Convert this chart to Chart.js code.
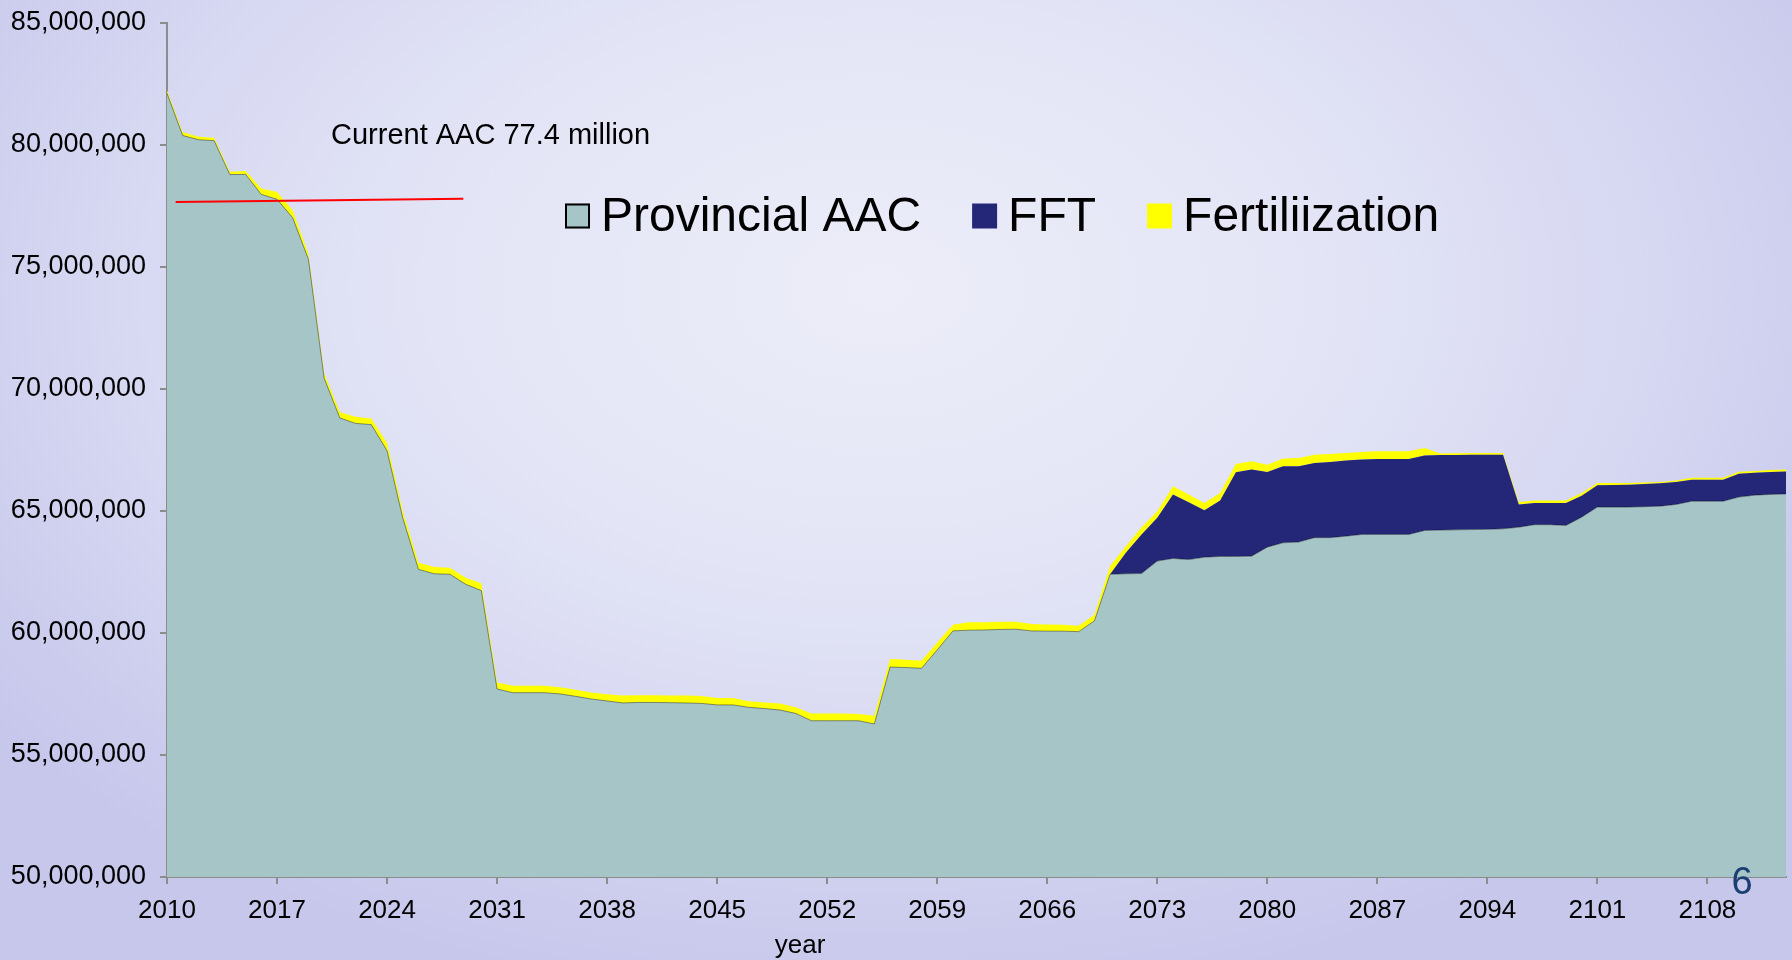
<!DOCTYPE html>
<html>
<head>
<meta charset="utf-8">
<script src="https://cdn.jsdelivr.net/npm/chart.js@4.4.1/dist/chart.umd.min.js"></script>
<style>
  html, body { margin: 0; padding: 0; }
  body {
    width: 1792px; height: 960px; overflow: hidden;
    background: radial-gradient(ellipse 62% 75% at 49% 30%, #ECEDF8 0%, #E3E5F6 40%, #D6D7F1 70%, #C6C7EB 100%);
  }
  #wrap { position: absolute; left: 0; top: 0; width: 1792px; height: 960px; }
</style>
</head>
<body>
<div id="wrap"><canvas id="c" width="1792" height="960"></canvas></div>
<script>
// ---- DATA (values in millions of m3) ----
const UNIT = 1e6;
const years = [];
for (let y = 2010; y <= 2113; y++) years.push(String(y));

const provincialAAC = [
  82.10, 80.37, 80.20, 80.16, 78.77, 78.78, 77.96, 77.76, 77.00, 75.30,
  70.43, 68.80, 68.58, 68.53, 67.46, 64.71, 62.60, 62.42, 62.40, 61.99,
  61.73, 57.70, 57.55, 57.55, 57.55, 57.50, 57.40, 57.29, 57.21, 57.13,
  57.15, 57.15, 57.14, 57.13, 57.11, 57.05, 57.05, 56.95, 56.90, 56.84,
  56.70, 56.40, 56.40, 56.40, 56.40, 56.27, 58.60, 58.58, 58.55, 59.30,
  60.08, 60.11, 60.12, 60.14, 60.15, 60.08, 60.07, 60.07, 60.05, 60.49,
  62.40, 62.42, 62.43, 62.94, 63.05, 63.00, 63.10, 63.13, 63.13, 63.14,
  63.51, 63.69, 63.72, 63.90, 63.90, 63.96, 64.03, 64.03, 64.03, 64.03,
  64.19, 64.21, 64.22, 64.23, 64.24, 64.26, 64.33, 64.43, 64.43, 64.40,
  64.74, 65.15, 65.15, 65.15, 65.17, 65.19, 65.26, 65.39, 65.39, 65.39,
  65.56, 65.64, 65.67, 65.69
];

const fft = [
  0, 0, 0, 0, 0, 0, 0, 0, 0, 0,
  0, 0, 0, 0, 0, 0, 0, 0, 0, 0,
  0, 0, 0, 0, 0, 0, 0, 0, 0, 0,
  0, 0, 0, 0, 0, 0, 0, 0, 0, 0,
  0, 0, 0, 0, 0, 0, 0, 0, 0, 0,
  0, 0, 0, 0, 0, 0, 0, 0, 0, 0,
  0, 0.86, 1.60, 1.77, 2.62, 2.35, 1.92, 2.29, 3.45, 3.55,
  3.08, 3.13, 3.10, 3.06, 3.10, 3.10, 3.07, 3.09, 3.09, 3.09,
  3.07, 3.07, 3.07, 3.07, 3.06, 3.04, 0.93, 0.89, 0.89, 0.92,
  0.88, 0.90, 0.91, 0.92, 0.93, 0.94, 0.92, 0.88, 0.88, 0.88,
  0.96, 0.92, 0.92, 0.92
];

const fertilization = [
  0.13, 0.13, 0.12, 0.12, 0.12, 0.14, 0.24, 0.30, 0.30, 0.23,
  0.20, 0.24, 0.27, 0.25, 0.32, 0.27, 0.27, 0.28, 0.27, 0.27,
  0.30, 0.27, 0.28, 0.28, 0.28, 0.27, 0.27, 0.27, 0.28, 0.30,
  0.29, 0.29, 0.29, 0.30, 0.30, 0.28, 0.28, 0.25, 0.25, 0.27,
  0.25, 0.30, 0.30, 0.30, 0.28, 0.33, 0.33, 0.32, 0.31, 0.30,
  0.25, 0.32, 0.31, 0.31, 0.31, 0.28, 0.27, 0.26, 0.24, 0.25,
  0.34, 0.27, 0.30, 0.27, 0.33, 0.32, 0.30, 0.31, 0.34, 0.34,
  0.30, 0.32, 0.34, 0.34, 0.33, 0.31, 0.31, 0.32, 0.32, 0.32,
  0.31, 0.07, 0.07, 0.07, 0.07, 0.07, 0.10, 0.10, 0.10, 0.10,
  0.11, 0.09, 0.08, 0.07, 0.06, 0.05, 0.06, 0.08, 0.08, 0.08,
  0.08, 0.07, 0.08, 0.08
];

// "Current AAC" reference line (year, value in millions)
const refLineYears = [2010.55, 2028.85];
const refLineValues = [77.65, 77.78];

const seriesLabels = ['Provincial AAC', 'FFT', 'Fertiliization'];
const yTickValues = [50, 55, 60, 65, 70, 75, 80, 85];
const xTickStep = 7;

// ---- overlay text plugin ----
const overlay = {
  id: 'overlay',
  afterDraw(chart) {
    const ctx = chart.ctx;
    const ca = chart.chartArea;
    ctx.save();
    ctx.fillStyle = '#000';
    ctx.font = '29px "Liberation Sans", Arial, sans-serif';
    ctx.textAlign = 'left';
    ctx.textBaseline = 'middle';
    ctx.fillText('Current AAC 77.4 million', 331, 136);

    // legend
    const ds = chart.data.datasets.slice(0, 3);
    let x = 565;
    const cy = 216;
    const box = 25;
    ctx.font = '48px "Liberation Sans", Arial, sans-serif';
    ds.forEach((d, i) => {
      ctx.fillStyle = d.backgroundColor;
      ctx.fillRect(x, cy - box / 2, box, box);
      if (i === 0) {
        ctx.strokeStyle = '#000';
        ctx.lineWidth = 2;
        ctx.strokeRect(x + 1, cy - box / 2 + 1, box - 2, box - 2);
      }
      x += box + 11;
      ctx.fillStyle = '#000';
      ctx.fillText(d.label, x, cy + 2);
      x += ctx.measureText(d.label).width + 51;
    });

    // axis title
    ctx.font = '26px "Liberation Sans", Arial, sans-serif';
    ctx.textAlign = 'center';
    ctx.fillText('year', ca.left + (ca.right - ca.left) * 0.391, 946);

    // slide number
    ctx.fillStyle = '#1B3F73';
    ctx.font = '38px "Liberation Sans", Arial, sans-serif';
    ctx.fillText('6', 1742, 884);
    ctx.restore();
  }
};

const toUnits = arr => arr.map(v => v * UNIT);

new Chart(document.getElementById('c'), {
  type: 'line',
  data: {
    labels: years,
    datasets: [
      {
        label: seriesLabels[0],
        data: toUnits(provincialAAC),
        backgroundColor: '#A5C5C7',
        borderColor: 'rgba(0,0,0,0.4)',
        borderWidth: 1,
        fill: 'start',
        pointRadius: 0,
        tension: 0
      },
      {
        label: seriesLabels[1],
        data: toUnits(fft),
        backgroundColor: '#242678',
        borderColor: '#242678',
        borderWidth: 0,
        fill: '-1',
        pointRadius: 0,
        tension: 0
      },
      {
        label: seriesLabels[2],
        data: toUnits(fertilization),
        backgroundColor: '#FFFF00',
        borderColor: '#FFFF00',
        borderWidth: 0,
        fill: '-1',
        pointRadius: 0,
        tension: 0
      },
      {
        label: 'Current AAC',
        data: refLineYears.map((yr, i) => ({ x: yr, y: refLineValues[i] * UNIT })),
        xAxisID: 'x2',
        stack: 'ref',
        order: -1,
        borderColor: '#FF0000',
        backgroundColor: '#FF0000',
        borderWidth: 2,
        fill: false,
        pointRadius: 0,
        tension: 0
      }
    ]
  },
  options: {
    responsive: false,
    animation: false,
    layout: { padding: { top: 22.5, right: 6, left: 0, bottom: 0 } },
    plugins: {
      legend: { display: false },
      tooltip: { enabled: false }
    },
    scales: {
      x: {
        type: 'category',
        offset: false,
        grid: {
          drawOnChartArea: false,
          drawTicks: true,
          tickLength: 7,
          color: '#8C8C8C',
          lineWidth: 2
        },
        border: { color: '#8C8C8C', width: 2 },
        ticks: {
          autoSkip: false,
          maxRotation: 0,
          minRotation: 0,
          padding: 11,
          color: '#000',
          font: { family: '"Liberation Sans", Arial, sans-serif', size: 26 },
          callback: function (value, index) {
            const yr = Number(years[index]);
            return ((yr - Number(years[0])) % xTickStep === 0) ? String(yr) : null;
          }
        },
        afterFit(scale) { scale.height = 83; scale.paddingRight = 0; }
      },
      x2: {
        type: 'linear',
        display: false,
        min: Number(years[0]),
        max: Number(years[years.length - 1])
      },
      y: {
        stacked: true,
        min: yTickValues[0] * UNIT,
        max: yTickValues[yTickValues.length - 1] * UNIT,
        grid: {
          drawOnChartArea: false,
          drawTicks: true,
          tickLength: 7,
          color: '#8C8C8C',
          lineWidth: 2
        },
        border: { color: '#8C8C8C', width: 2 },
        afterBuildTicks(scale) {
          scale.ticks = yTickValues.map(v => ({ value: v * UNIT }));
        },
        ticks: {
          padding: 14,
          color: '#000',
          font: { family: '"Liberation Sans", Arial, sans-serif', size: 27 },
          callback: v => Number(v).toLocaleString('en-US')
        },
        afterFit(scale) {
          scale.width = 167;
          scale.paddingTop = 0;
          scale.paddingBottom = 0;
        }
      }
    }
  },
  plugins: [overlay]
});
</script>
</body>
</html>
